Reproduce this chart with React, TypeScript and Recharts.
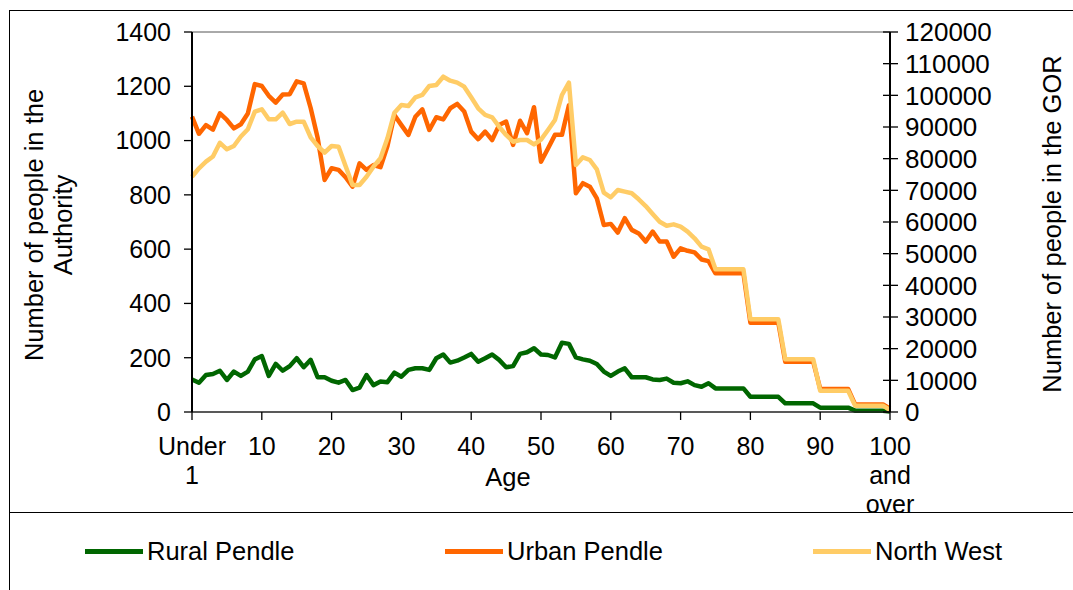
import { Line, LineChart, ReferenceLine, XAxis, YAxis } from 'recharts';

const FONT = '"Liberation Sans", Arial, sans-serif';

const ages = [
  'Under 1', '1', '2', '3', '4', '5', '6', '7', '8', '9',
  '10', '11', '12', '13', '14', '15', '16', '17', '18', '19',
  '20', '21', '22', '23', '24', '25', '26', '27', '28', '29',
  '30', '31', '32', '33', '34', '35', '36', '37', '38', '39',
  '40', '41', '42', '43', '44', '45', '46', '47', '48', '49',
  '50', '51', '52', '53', '54', '55', '56', '57', '58', '59',
  '60', '61', '62', '63', '64', '65', '66', '67', '68', '69',
  '70', '71', '72', '73', '74', '75', '76', '77', '78', '79',
  '80', '81', '82', '83', '84', '85', '86', '87', '88', '89',
  '90', '91', '92', '93', '94', '95', '96', '97', '98', '99',
  '100 and over',
];

// Authority (left axis)
const ruralPendle = [
  120, 108, 136, 140, 152, 118, 149, 133, 149, 194,
  206, 133, 177, 152, 169, 198, 165, 192, 128, 128,
  115, 108, 118, 81, 90, 136, 99, 112, 110, 145,
  130, 155, 161, 161, 155, 198, 212, 182, 189, 201,
  214, 185, 198, 212, 192, 165, 169, 214, 220, 235,
  212, 210, 201, 255, 251, 201, 194, 189, 177, 149,
  133, 149, 161, 128, 128, 128, 120, 118, 123, 108,
  106, 113, 99, 93, 106, 87, 87, 87, 87, 87,
  56, 56, 56, 56, 56, 32, 32, 32, 32, 32,
  16, 16, 16, 16, 16, 5, 5, 5, 5, 5,
  2,
];

const urbanPendle = [
  1088, 1025, 1057, 1040, 1100, 1076, 1045, 1060, 1100, 1208,
  1201, 1165, 1140, 1170, 1171, 1218, 1211, 1120, 1010, 855,
  898, 892, 865, 830, 916, 892, 910, 902, 980, 1094,
  1057, 1021, 1088, 1115, 1039, 1086, 1078, 1119, 1135, 1107,
  1033, 1005, 1033, 1002, 1057, 1070, 984, 1073, 1027, 1123,
  922, 971, 1021, 1021, 1130, 806, 843, 830, 787, 689,
  693, 661, 714, 671, 658, 628, 665, 628, 628, 572,
  603, 594, 588, 562, 556, 511, 511, 511, 511, 511,
  329, 329, 329, 329, 329, 185, 185, 185, 185, 185,
  85, 85, 85, 85, 85, 28, 28, 28, 28, 28,
  12,
];

// GOR (right axis)
const northWest = [
  74300, 76960, 79050, 80700, 85000, 82950, 84000, 87000, 89280, 94840,
  95600, 92440, 92440, 94520, 90950, 91680, 91680, 86750, 84000, 81890,
  84000, 83790, 77690, 71690, 71690, 74300, 77470, 80120, 86430, 94520,
  96950, 96640, 99380, 100110, 102950, 103270, 105890, 104630, 104000, 102740,
  99380, 95900, 93800, 93070, 90100, 87480, 85360, 85900, 85900, 84500,
  86000, 89060, 92210, 100110, 104000, 78000, 80430, 79580, 76640, 69260,
  67800, 70110, 69580, 69060, 67170, 65050, 62530, 60100, 58840, 59260,
  58530, 56950, 54850, 52210, 51370, 45060, 45060, 45060, 45060, 45060,
  29270, 29270, 29270, 29270, 29270, 16640, 16640, 16640, 16640, 16640,
  6730, 6730, 6730, 6730, 6730, 2000, 2000, 2000, 2000, 2000,
  600,
];

const leftTicks = [0, 200, 400, 600, 800, 1000, 1200, 1400];
const rightTicks = [0, 10000, 20000, 30000, 40000, 50000, 60000, 70000, 80000, 90000, 100000, 110000, 120000];

const tickLines: Record<string, string[]> = {
  'Under 1': ['Under', '1'],
  '100 and over': ['100', 'and', 'over'],
};

const series = [
  { key: 'rural', label: 'Rural Pendle', color: '#006600', axis: 'left', legendLeft: 85 },
  { key: 'urban', label: 'Urban Pendle', color: '#ff6600', axis: 'left', legendLeft: 445 },
  { key: 'northWest', label: 'North West', color: '#ffcc66', axis: 'right', legendLeft: 813 },
];

const data = ages.map((age, i) => ({
  age,
  rural: ruralPendle[i],
  urban: urbanPendle[i],
  northWest: northWest[i],
}));

function AgeTick(props: any) {
  const { x, y, payload } = props;
  const lines = tickLines[payload.value] ?? [payload.value];
  return (
    <text x={x} y={y} textAnchor="middle" fontSize={25} fontFamily={FONT} fill="#000">
      {lines.map((l, i) => (
        <tspan key={i} x={x} dy={i === 0 ? 35 : 29}>
          {l}
        </tspan>
      ))}
    </text>
  );
}

function GorTick(props: any) {
  const { x, y, payload } = props;
  return (
    <g>
      <line x1={x - 22} x2={x - 7} y1={y} y2={y} stroke="#000" strokeWidth={1.3} />
      <text x={x} y={y} dy="0.355em" textAnchor="start" fontSize={26} fontFamily={FONT} fill="#000">
        {payload.value}
      </text>
    </g>
  );
}

const textStyle = { fontFamily: FONT, fontSize: 25.5, color: '#000', position: 'absolute' as const };

export default function App() {
  return (
    <div style={{ position: 'fixed', inset: 0, overflow: 'hidden', background: '#fff' }}>
      {/* chart frame */}
      <div style={{ position: 'absolute', left: 9, top: 10, right: 0, height: 1, background: '#000' }} />
      <div style={{ position: 'absolute', left: 9, top: 10, bottom: 0, width: 1, background: '#000' }} />
      <div style={{ position: 'absolute', left: 9, top: 512, right: 0, height: 1, background: '#000' }} />

      <div style={{ position: 'absolute', left: 0, top: 0 }}>
        <LineChart width={1073} height={590} data={data} margin={{ top: 32, right: 0, bottom: 0, left: 0 }}>
          <XAxis
            dataKey="age"
            scale="point"
            interval={9}
            height={178}
            tickSize={8}
            tickMargin={0}
            tick={<AgeTick />}
            axisLine={{ stroke: '#222', strokeWidth: 1.5 }}
            tickLine={{ stroke: '#000', strokeWidth: 1.3 }}
          />
          <YAxis
            yAxisId="left"
            width={192}
            domain={[0, 1400]}
            ticks={leftTicks}
            interval={0}
            tickSize={8}
            tickMargin={13}
            tick={{ fontSize: 25, fontFamily: FONT, fill: '#000' }}
            axisLine={{ stroke: '#000', strokeWidth: 2 }}
            tickLine={{ stroke: '#000', strokeWidth: 1.3 }}
          />
          <YAxis
            yAxisId="right"
            orientation="right"
            width={183}
            domain={[0, 120000]}
            ticks={rightTicks}
            interval={0}
            tickSize={8}
            tickMargin={7}
            tick={<GorTick />}
            tickLine={false}
            axisLine={{ stroke: '#000', strokeWidth: 2 }}
          />
          <ReferenceLine yAxisId="left" y={1400} stroke="#555" strokeWidth={1} />
          {series.map((s) => (
            <Line
              key={s.key}
              yAxisId={s.axis}
              type="linear"
              dataKey={s.key}
              stroke={s.color}
              strokeWidth={4.5}
              strokeLinejoin="round"
              dot={false}
              activeDot={false}
              isAnimationActive={false}
            />
          ))}
        </LineChart>
      </div>

      {/* axis titles */}
      <div
        style={{
          ...textStyle,
          left: 49 - 170,
          top: 225 - 29,
          width: 340,
          lineHeight: '29px',
          textAlign: 'center',
          transform: 'rotate(-90deg)',
        }}
      >
        Number of people in the
        <br />
        Authority
      </div>
      <div
        style={{
          ...textStyle,
          left: 1052 - 200,
          top: 224 - 15,
          width: 400,
          lineHeight: '30px',
          textAlign: 'center',
          transform: 'rotate(-90deg)',
        }}
      >
        Number of people in the GOR
      </div>
      <div style={{ ...textStyle, left: 508 - 50, top: 477 - 15, width: 100, lineHeight: '30px', textAlign: 'center' }}>
        Age
      </div>

      {/* legend */}
      {series.map((s) => (
        <div
          key={s.key}
          style={{ ...textStyle, left: s.legendLeft, top: 551 - 15, height: 30, display: 'flex', alignItems: 'center' }}
        >
          <span style={{ display: 'inline-block', width: 58, height: 5, background: s.color }} />
          <span style={{ marginLeft: 4, lineHeight: '30px', whiteSpace: 'nowrap' }}>{s.label}</span>
        </div>
      ))}
    </div>
  );
}
